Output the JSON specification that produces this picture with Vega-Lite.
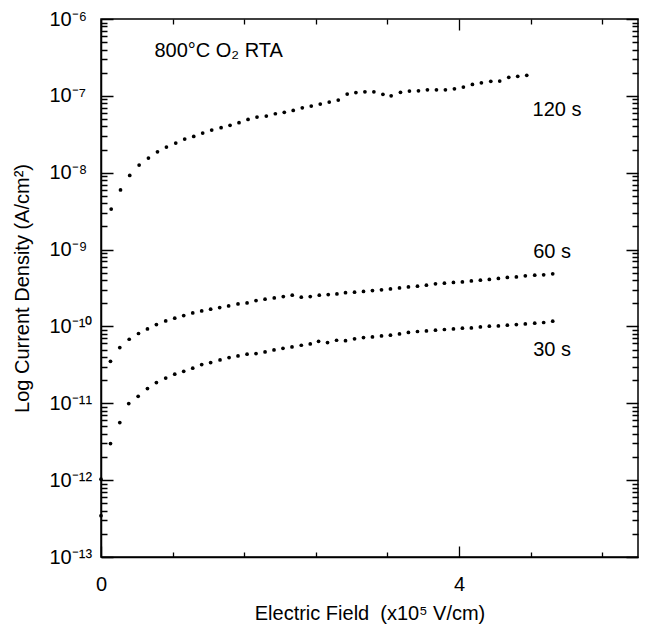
{
  "$schema": "https://vega.github.io/schema/vega-lite/v6.json",
  "width": 537,
  "height": 538,
  "autosize": {"type": "none"},
  "padding": {"left": 101, "top": 19, "right": 9, "bottom": 78},
  "config": {"view": {"stroke": "black", "strokeWidth": 1.5}},
  "data": {"values": [
      {"series": "120 s", "field": 0.114, "current": 3.36e-9},
      {"series": "120 s", "field": 0.218, "current": 5.98e-9},
      {"series": "120 s", "field": 0.321, "current": 9.23e-9},
      {"series": "120 s", "field": 0.426, "current": 1.256e-8},
      {"series": "120 s", "field": 0.530, "current": 1.549e-8},
      {"series": "120 s", "field": 0.631, "current": 1.871e-8},
      {"series": "120 s", "field": 0.731, "current": 2.154e-8},
      {"series": "120 s", "field": 0.835, "current": 2.43e-8},
      {"series": "120 s", "field": 0.935, "current": 2.74e-8},
      {"series": "120 s", "field": 1.036, "current": 2.97e-8},
      {"series": "120 s", "field": 1.136, "current": 3.28e-8},
      {"series": "120 s", "field": 1.237, "current": 3.59e-8},
      {"series": "120 s", "field": 1.342, "current": 3.85e-8},
      {"series": "120 s", "field": 1.442, "current": 4.13e-8},
      {"series": "120 s", "field": 1.542, "current": 4.47e-8},
      {"series": "120 s", "field": 1.643, "current": 4.94e-8},
      {"series": "120 s", "field": 1.743, "current": 5.30e-8},
      {"series": "120 s", "field": 1.847, "current": 5.46e-8},
      {"series": "120 s", "field": 1.948, "current": 5.85e-8},
      {"series": "120 s", "field": 2.048, "current": 6.10e-8},
      {"series": "120 s", "field": 2.148, "current": 6.47e-8},
      {"series": "120 s", "field": 2.249, "current": 7.00e-8},
      {"series": "120 s", "field": 2.349, "current": 7.36e-8},
      {"series": "120 s", "field": 2.450, "current": 7.82e-8},
      {"series": "120 s", "field": 2.550, "current": 8.30e-8},
      {"series": "120 s", "field": 2.651, "current": 8.81e-8},
      {"series": "120 s", "field": 2.751, "current": 1.055e-7},
      {"series": "120 s", "field": 2.848, "current": 1.104e-7},
      {"series": "120 s", "field": 2.949, "current": 1.130e-7},
      {"series": "120 s", "field": 3.049, "current": 1.130e-7},
      {"series": "120 s", "field": 3.150, "current": 1.047e-7},
      {"series": "120 s", "field": 3.242, "current": 1.003e-7},
      {"series": "120 s", "field": 3.346, "current": 1.111e-7},
      {"series": "120 s", "field": 3.446, "current": 1.155e-7},
      {"series": "120 s", "field": 3.547, "current": 1.165e-7},
      {"series": "120 s", "field": 3.647, "current": 1.20e-7},
      {"series": "120 s", "field": 3.748, "current": 1.20e-7},
      {"series": "120 s", "field": 3.848, "current": 1.20e-7},
      {"series": "120 s", "field": 3.949, "current": 1.236e-7},
      {"series": "120 s", "field": 4.049, "current": 1.30e-7},
      {"series": "120 s", "field": 4.150, "current": 1.41e-7},
      {"series": "120 s", "field": 4.250, "current": 1.48e-7},
      {"series": "120 s", "field": 4.355, "current": 1.545e-7},
      {"series": "120 s", "field": 4.455, "current": 1.56e-7},
      {"series": "120 s", "field": 4.556, "current": 1.74e-7},
      {"series": "120 s", "field": 4.656, "current": 1.795e-7},
      {"series": "120 s", "field": 4.757, "current": 1.85e-7},
      {"series": "60 s", "field": 0.0, "current": 1.03e-12},
      {"series": "60 s", "field": 0.106, "current": 3.52e-11},
      {"series": "60 s", "field": 0.210, "current": 5.31e-11},
      {"series": "60 s", "field": 0.315, "current": 6.81e-11},
      {"series": "60 s", "field": 0.419, "current": 8.09e-11},
      {"series": "60 s", "field": 0.519, "current": 9.27e-11},
      {"series": "60 s", "field": 0.619, "current": 1.059e-10},
      {"series": "60 s", "field": 0.723, "current": 1.180e-10},
      {"series": "60 s", "field": 0.824, "current": 1.279e-10},
      {"series": "60 s", "field": 0.924, "current": 1.387e-10},
      {"series": "60 s", "field": 1.025, "current": 1.50e-10},
      {"series": "60 s", "field": 1.125, "current": 1.59e-10},
      {"series": "60 s", "field": 1.225, "current": 1.675e-10},
      {"series": "60 s", "field": 1.326, "current": 1.76e-10},
      {"series": "60 s", "field": 1.426, "current": 1.85e-10},
      {"series": "60 s", "field": 1.531, "current": 1.963e-10},
      {"series": "60 s", "field": 1.632, "current": 2.02e-10},
      {"series": "60 s", "field": 1.732, "current": 2.17e-10},
      {"series": "60 s", "field": 1.833, "current": 2.26e-10},
      {"series": "60 s", "field": 1.936, "current": 2.35e-10},
      {"series": "60 s", "field": 2.037, "current": 2.45e-10},
      {"series": "60 s", "field": 2.137, "current": 2.55e-10},
      {"series": "60 s", "field": 2.238, "current": 2.40e-10},
      {"series": "60 s", "field": 2.338, "current": 2.45e-10},
      {"series": "60 s", "field": 2.439, "current": 2.55e-10},
      {"series": "60 s", "field": 2.539, "current": 2.60e-10},
      {"series": "60 s", "field": 2.636, "current": 2.65e-10},
      {"series": "60 s", "field": 2.732, "current": 2.75e-10},
      {"series": "60 s", "field": 2.833, "current": 2.79e-10},
      {"series": "60 s", "field": 2.933, "current": 2.85e-10},
      {"series": "60 s", "field": 3.033, "current": 2.93e-10},
      {"series": "60 s", "field": 3.134, "current": 2.99e-10},
      {"series": "60 s", "field": 3.234, "current": 3.08e-10},
      {"series": "60 s", "field": 3.335, "current": 3.17e-10},
      {"series": "60 s", "field": 3.435, "current": 3.27e-10},
      {"series": "60 s", "field": 3.536, "current": 3.34e-10},
      {"series": "60 s", "field": 3.636, "current": 3.44e-10},
      {"series": "60 s", "field": 3.737, "current": 3.58e-10},
      {"series": "60 s", "field": 3.837, "current": 3.65e-10},
      {"series": "60 s", "field": 3.938, "current": 3.73e-10},
      {"series": "60 s", "field": 4.038, "current": 3.79e-10},
      {"series": "60 s", "field": 4.138, "current": 3.91e-10},
      {"series": "60 s", "field": 4.239, "current": 4.00e-10},
      {"series": "60 s", "field": 4.339, "current": 4.08e-10},
      {"series": "60 s", "field": 4.440, "current": 4.21e-10},
      {"series": "60 s", "field": 4.540, "current": 4.34e-10},
      {"series": "60 s", "field": 4.641, "current": 4.41e-10},
      {"series": "60 s", "field": 4.741, "current": 4.55e-10},
      {"series": "60 s", "field": 4.846, "current": 4.64e-10},
      {"series": "60 s", "field": 4.946, "current": 4.69e-10},
      {"series": "60 s", "field": 5.047, "current": 4.83e-10},
      {"series": "30 s", "field": 0.0, "current": 3.45e-13},
      {"series": "30 s", "field": 0.106, "current": 2.99e-12},
      {"series": "30 s", "field": 0.210, "current": 5.61e-12},
      {"series": "30 s", "field": 0.310, "current": 9.91e-12},
      {"series": "30 s", "field": 0.415, "current": 1.233e-11},
      {"series": "30 s", "field": 0.519, "current": 1.553e-11},
      {"series": "30 s", "field": 0.619, "current": 1.86e-11},
      {"series": "30 s", "field": 0.723, "current": 2.13e-11},
      {"series": "30 s", "field": 0.824, "current": 2.39e-11},
      {"series": "30 s", "field": 0.924, "current": 2.61e-11},
      {"series": "30 s", "field": 1.025, "current": 2.86e-11},
      {"series": "30 s", "field": 1.125, "current": 3.19e-11},
      {"series": "30 s", "field": 1.225, "current": 3.39e-11},
      {"series": "30 s", "field": 1.330, "current": 3.66e-11},
      {"series": "30 s", "field": 1.431, "current": 3.94e-11},
      {"series": "30 s", "field": 1.531, "current": 4.13e-11},
      {"series": "30 s", "field": 1.632, "current": 4.35e-11},
      {"series": "30 s", "field": 1.732, "current": 4.44e-11},
      {"series": "30 s", "field": 1.833, "current": 4.66e-11},
      {"series": "30 s", "field": 1.933, "current": 4.94e-11},
      {"series": "30 s", "field": 2.033, "current": 5.20e-11},
      {"series": "30 s", "field": 2.134, "current": 5.41e-11},
      {"series": "30 s", "field": 2.238, "current": 5.69e-11},
      {"series": "30 s", "field": 2.338, "current": 5.92e-11},
      {"series": "30 s", "field": 2.431, "current": 6.41e-11},
      {"series": "30 s", "field": 2.531, "current": 6.17e-11},
      {"series": "30 s", "field": 2.632, "current": 6.61e-11},
      {"series": "30 s", "field": 2.732, "current": 6.52e-11},
      {"series": "30 s", "field": 2.833, "current": 6.90e-11},
      {"series": "30 s", "field": 2.933, "current": 7.17e-11},
      {"series": "30 s", "field": 3.033, "current": 7.30e-11},
      {"series": "30 s", "field": 3.134, "current": 7.52e-11},
      {"series": "30 s", "field": 3.234, "current": 7.68e-11},
      {"series": "30 s", "field": 3.335, "current": 7.99e-11},
      {"series": "30 s", "field": 3.435, "current": 8.34e-11},
      {"series": "30 s", "field": 3.536, "current": 8.59e-11},
      {"series": "30 s", "field": 3.636, "current": 8.73e-11},
      {"series": "30 s", "field": 3.737, "current": 8.93e-11},
      {"series": "30 s", "field": 3.837, "current": 9.12e-11},
      {"series": "30 s", "field": 3.938, "current": 9.27e-11},
      {"series": "30 s", "field": 4.038, "current": 9.48e-11},
      {"series": "30 s", "field": 4.138, "current": 9.55e-11},
      {"series": "30 s", "field": 4.239, "current": 9.85e-11},
      {"series": "30 s", "field": 4.339, "current": 1.007e-10},
      {"series": "30 s", "field": 4.440, "current": 1.016e-10},
      {"series": "30 s", "field": 4.540, "current": 1.037e-10},
      {"series": "30 s", "field": 4.641, "current": 1.059e-10},
      {"series": "30 s", "field": 4.741, "current": 1.079e-10},
      {"series": "30 s", "field": 4.846, "current": 1.101e-10},
      {"series": "30 s", "field": 4.946, "current": 1.125e-10},
      {"series": "30 s", "field": 5.047, "current": 1.169e-10}
  ]},
  "layer": [
    {
      "mark": {"type": "point", "filled": true, "color": "black", "size": 14, "opacity": 1},
      "encoding": {
        "x": {"field": "field", "type": "quantitative",
          "scale": {"domain": [0, 6], "nice": false, "zero": false},
          "axis": {"values": [0, 0.2, 0.4, 0.6, 0.8, 1, 1.2, 1.4, 1.6, 1.8, 2, 2.2, 2.4, 2.6, 2.8, 3, 3.2, 3.4, 3.6, 3.8, 4, 4.2, 4.4, 4.6, 4.8, 5, 5.2, 5.4, 5.6, 5.8, 6],
            "ticks": false, "domain": true, "domainColor": "black", "domainWidth": 1.5,
            "grid": true, "gridColor": "black", "gridOpacity": 1, "gridWidth": 1.3,
            "gridDash": {"condition": {"test": "abs(datum.value - round(datum.value)) < 0.01", "value": [11, 516, 11, 2000]}, "value": [5, 528, 5, 2000]},
            "labelExpr": "abs(datum.value - round(datum.value)) < 0.01 ? format(datum.value, 'd') : ''",
            "labelOverlap": false, "labelFlush": false, "labelColor": "black", "labelFont": "Liberation Sans", "labelFontSize": 20, "labelPadding": 33, "labelBaseline": "alphabetic",
            "title": "Electric Field\u00a0 (x10⁵ V/cm)", "titleColor": "black", "titleFont": "Liberation Sans", "titleFontSize": 20, "titleFontWeight": "normal", "titleY": 62, "titleBaseline": "alphabetic"}},
        "y": {"field": "current", "type": "quantitative",
          "scale": {"type": "log", "domain": [1e-13, 1e-6], "nice": false},
          "axis": {"values": [1e-13, 2e-13, 3e-13, 4e-13, 5e-13, 6e-13, 7e-13, 8e-13, 9e-13, 1e-12, 2e-12, 3e-12, 4e-12, 5e-12, 6e-12, 7e-12, 8e-12, 9e-12, 1e-11, 2e-11, 3e-11, 4e-11, 5e-11, 6e-11, 7e-11, 8e-11, 9e-11, 1e-10, 2e-10, 3e-10, 4e-10, 5e-10, 6e-10, 7e-10, 8e-10, 9e-10, 1e-9, 2e-9, 3e-9, 4e-9, 5e-9, 6e-9, 7e-9, 8e-9, 9e-9, 1e-8, 2e-8, 3e-8, 4e-8, 5e-8, 6e-8, 7e-8, 8e-8, 9e-8, 1e-7, 2e-7, 3e-7, 4e-7, 5e-7, 6e-7, 7e-7, 8e-7, 9e-7, 1e-6],
            "ticks": false, "domain": true, "domainColor": "black", "domainWidth": 1.5,
            "grid": true, "gridColor": "black", "gridOpacity": 1, "gridWidth": 1.3,
            "gridDash": {"condition": {"test": "abs(log(datum.value)/LN10 - round(log(datum.value)/LN10)) < 0.01", "value": [12, 513, 12, 2000]}, "value": [6, 525, 6, 2000]},
            "labelExpr": "abs(log(datum.value)/LN10 - round(log(datum.value)/LN10)) < 0.01 ? '10' + ['⁻⁶','⁻⁷','⁻⁸','⁻⁹','⁻¹⁰','⁻¹¹','⁻¹²','⁻¹³'][round(-log(datum.value)/LN10) - 6] : ''",
            "labelOverlap": false, "labelFlush": false, "labelColor": "black", "labelFont": "Liberation Sans", "labelFontSize": 20, "labelAlign": "left", "labelBaseline": "middle", "labelPadding": 52,
            "title": "Log Current Density (A/cm²)", "titleColor": "black", "titleFont": "Liberation Sans", "titleFontSize": 20, "titleFontWeight": "normal", "titleX": -79, "titleY": 269, "titleAngle": 270, "titleBaseline": "middle", "titleAlign": "center"}}
      }
    },
    {
      "data": {"values": [
        {"text": "120 s", "field": 5.095, "current": 6.55e-8},
        {"text": "60 s", "field": 5.04, "current": 9.37e-10},
        {"text": "30 s", "field": 5.04, "current": 4.9e-11}
      ]},
      "mark": {"type": "text", "fontSize": 20, "font": "Liberation Sans", "color": "black", "align": "center", "baseline": "middle"},
      "encoding": {
        "x": {"field": "field", "type": "quantitative"},
        "y": {"field": "current", "type": "quantitative"},
        "text": {"field": "text"}
      }
    },
    {
      "data": {"values": [
        {"text": "800°C O₂ RTA", "field": 0.597, "current": 3.89e-7}
      ]},
      "mark": {"type": "text", "fontSize": 20, "font": "Liberation Sans", "color": "black", "align": "left", "baseline": "middle"},
      "encoding": {
        "x": {"field": "field", "type": "quantitative"},
        "y": {"field": "current", "type": "quantitative"},
        "text": {"field": "text"}
      }
    }
  ]
}
